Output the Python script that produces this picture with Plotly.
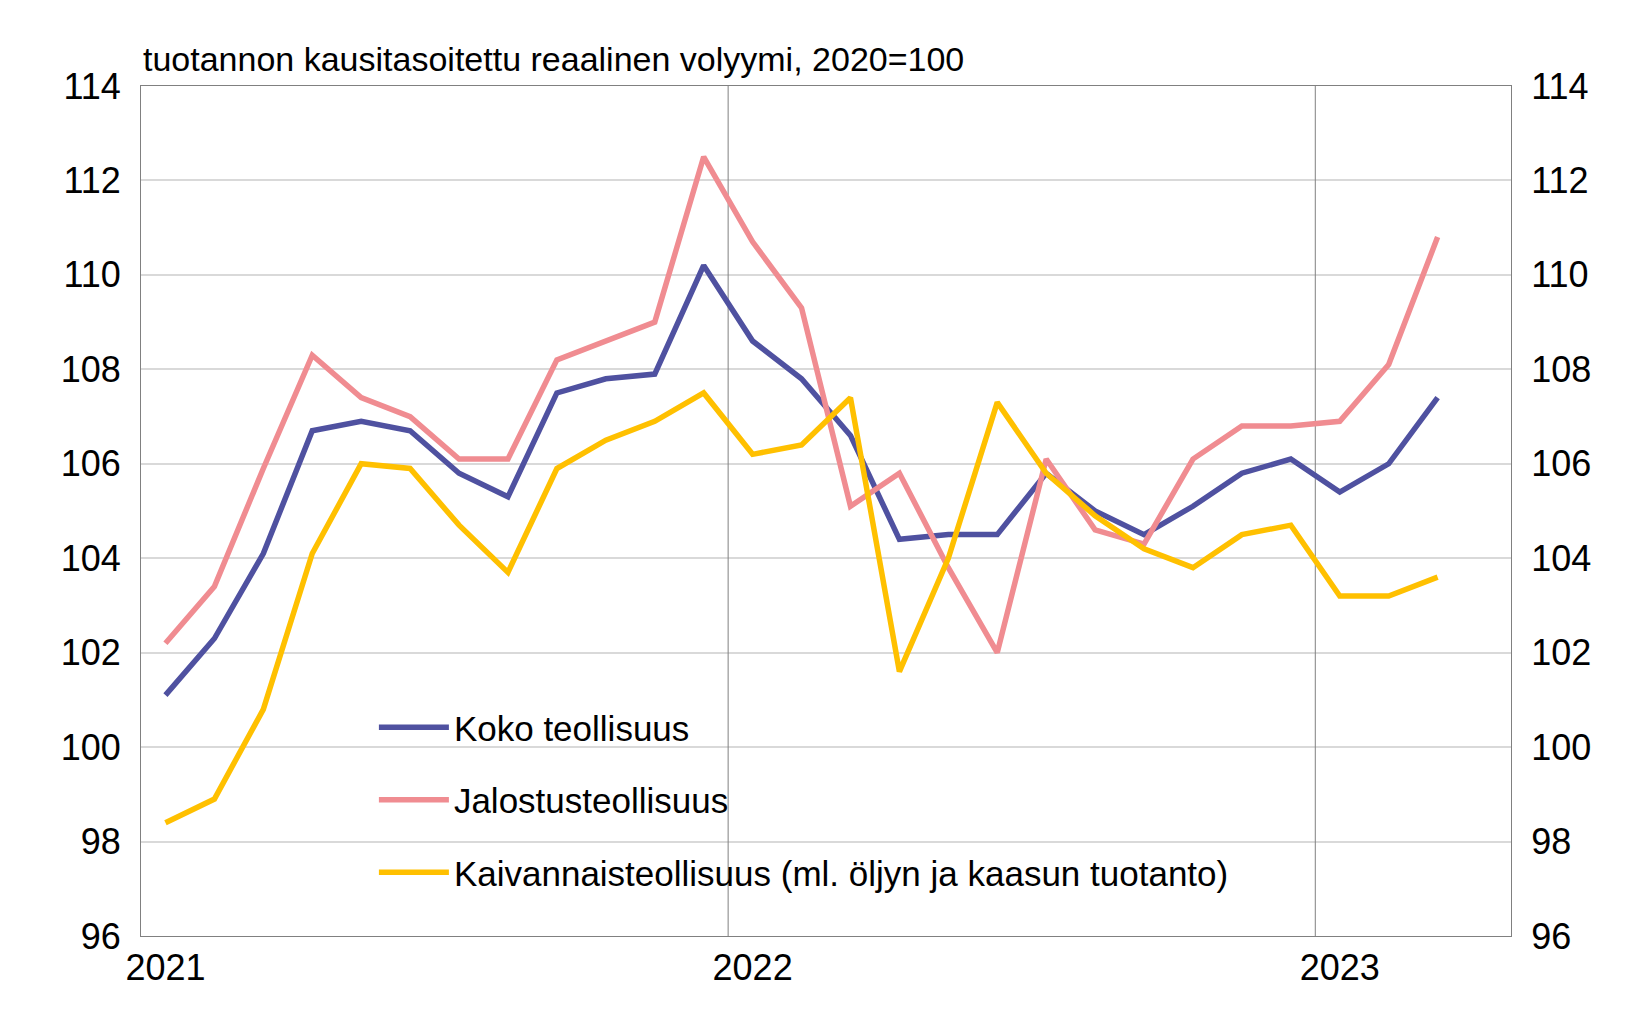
import plotly.graph_objects as go

months = list(range(27))  # Jan 2021 .. Mar 2023
tick_vals = [0, 12, 24]
tick_text = ['2021', '2022', '2023']

koko = [101.1, 102.3, 104.1, 106.7, 106.9, 106.7, 105.8, 105.3, 107.5, 107.8, 107.9, 110.2,
        108.6, 107.8, 106.6, 104.4, 104.5, 104.5, 105.8, 105.0, 104.5, 105.1, 105.8, 106.1,
        105.4, 106.0, 107.4]
jalostus = [102.2, 103.4, 105.9, 108.3, 107.4, 107.0, 106.1, 106.1, 108.2, 108.6, 109.0, 112.5,
            110.7, 109.3, 105.1, 105.8, 103.8, 102.0, 106.1, 104.6, 104.3, 106.1, 106.8, 106.8,
            106.9, 108.1, 110.8]
kaivannais = [98.4, 98.9, 100.8, 104.1, 106.0, 105.9, 104.7, 103.7, 105.9, 106.5, 106.9, 107.5,
              106.2, 106.4, 107.4, 101.6, 104.0, 107.3, 105.8, 104.9, 104.2, 103.8, 104.5, 104.7,
              103.2, 103.2, 103.6]

font = 'Arial, Liberation Sans'
fig = go.Figure()
fig.add_trace(go.Scatter(x=months, y=koko, name='Koko teollisuus', mode='lines', legendgroup='a',
                         line=dict(color='#4f51a0', width=5.5)))
fig.add_trace(go.Scatter(x=months, y=jalostus, name='Jalostusteollisuus', mode='lines', legendgroup='b',
                         line=dict(color='#f08c91', width=5.5)))
fig.add_trace(go.Scatter(x=months, y=kaivannais, name='Kaivannaisteollisuus (ml. öljyn ja kaasun tuotanto)',
                         mode='lines', legendgroup='c', line=dict(color='#ffc000', width=5.5)))
fig.add_trace(go.Scatter(x=[None], y=[None], yaxis='y2', showlegend=False))

# year separators
for xv in [11.5, 23.5]:
    fig.add_shape(type='line', x0=xv, x1=xv, y0=96, y1=114, xref='x', yref='y',
                  line=dict(color='#808080', width=1), layer='between')
# white box behind legend
fig.add_shape(type='rect', x0=0.12, x1=0.963, y0=0.035, y1=0.287, xref='paper', yref='paper',
              fillcolor='white', line_width=0, layer='between')

fig.update_layout(
    width=1646, height=1025,
    margin=dict(l=133, r=143, t=78, b=97),
    plot_bgcolor='white', paper_bgcolor='white',
    font=dict(family=font, size=36, color='black'),
    showlegend=True,
    legend=dict(x=0.17, y=0.28, xanchor='left', yanchor='top', bgcolor='rgba(0,0,0,0)',
                font=dict(size=35), tracegroupgap=24, itemwidth=70),
    xaxis=dict(range=[-0.5, 27.5], tickvals=tick_vals, ticktext=tick_text, showgrid=False,
               showline=True, linecolor='#808080', mirror=True, ticks='', zeroline=False),
    yaxis=dict(range=[96, 114], dtick=2, showgrid=True, gridcolor='#d9d9d9', gridwidth=2,
               showline=True, linecolor='#808080', mirror=True, ticks='outside',
               ticklen=12, tickcolor='white', zeroline=False),
    yaxis2=dict(range=[96, 114], dtick=2, overlaying='y', side='right', showgrid=False,
                ticks='outside', ticklen=12, tickcolor='white', zeroline=False),
    annotations=[dict(text='tuotannon kausitasoitettu reaalinen volyymi, 2020=100', x=0, y=1.0,
                      xref='paper', yref='paper', xanchor='left', yanchor='bottom',
                      showarrow=False, font=dict(size=34), yshift=6)],
)
fig.write_html('out.html')
